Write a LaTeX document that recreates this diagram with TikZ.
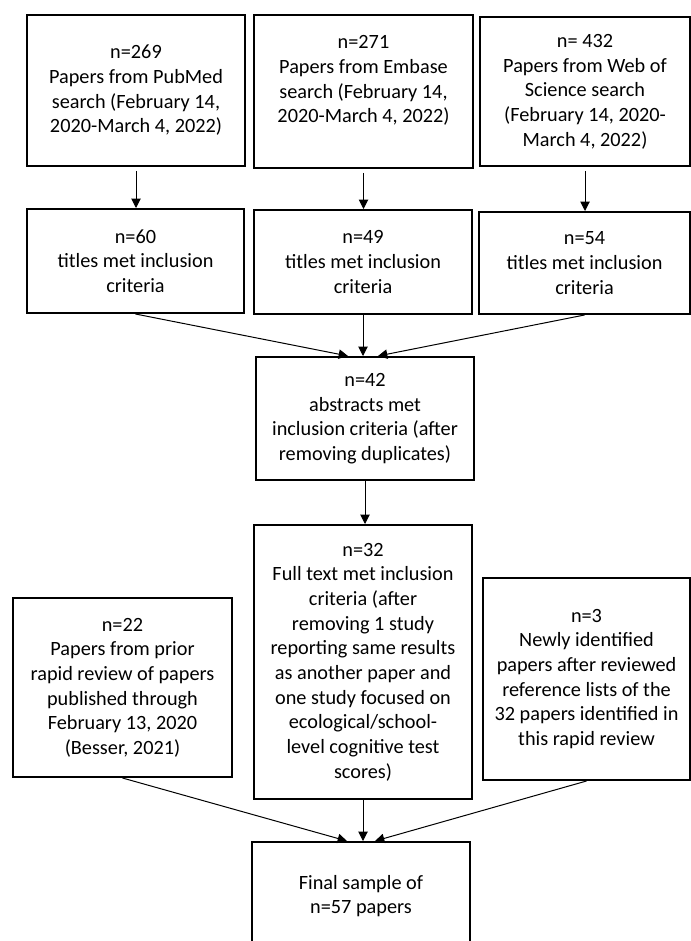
\documentclass[tikz,border=0pt]{standalone}
\usepackage{fontspec}
\setmainfont{Carlito}
\usepackage{tikz}
\usetikzlibrary{calc,arrows.meta}
\definecolor{boxline}{HTML}{000000}

\begin{document}
\begin{tikzpicture}[x=0.75pt,y=-0.75pt,
  flowbox/.style={draw=boxline, line width=1.5pt, align=center, inner sep=2pt,
    font=\fontsize{15.2pt}{18.5pt}\selectfont},
  flowarrow/.style={draw=boxline, line width=0.75pt, -{Triangle[length=7pt,width=7pt]}}]
\useasboundingbox (0,0) rectangle (691,941);
% search results
\node[flowbox, minimum width=163.5pt, minimum height=113.25pt] (pub) at (136,90.5)
  {n=269\\Papers from PubMed\\search (February 14,\\2020-March 4, 2022)};
\node[flowbox, minimum width=164.25pt, minimum height=114.75pt] (emb) at (363.5,91.5)
  {n=271\\Papers from Embase\\search (February 14,\\2020-March 4, 2022)\\ \mbox{}};
\node[flowbox, minimum width=157.5pt, minimum height=111.75pt] (wos) at (585,91.5)
  {n= 432\\Papers from Web of\\Science search\\(February 14, 2020-\\March 4, 2022)};
% titles
\node[flowbox, minimum width=162.75pt, minimum height=78pt] (pubt) at (135.5,261)
  {n=60\\titles met inclusion\\criteria};
\node[flowbox, minimum width=163.5pt, minimum height=78pt] (embt) at (363,262)
  {n=49\\titles met inclusion\\criteria};
\node[flowbox, minimum width=158.25pt, minimum height=76.5pt] (wost) at (584.5,263)
  {n=54\\titles met inclusion\\criteria};
% abstracts and full text
\node[flowbox, minimum width=163.5pt, minimum height=92.25pt] (abs) at (365,418.5)
  {n=42\\abstracts met\\inclusion criteria (after\\removing duplicates)};
\node[flowbox, minimum width=163.5pt, minimum height=205.5pt] (full) at (363,662)
  {n=32\\Full text met inclusion\\criteria (after\\removing 1 study\\reporting same results\\as another paper and\\one study focused on\\ecological/school-\\level cognitive test\\scores)};
\node[flowbox, minimum width=164.25pt, minimum height=134.25pt] (prior) at (122.5,687.5)
  {n=22\\Papers from prior\\rapid review of papers\\published through\\February 13, 2020\\(Besser, 2021)};
\node[flowbox, minimum width=155.25pt, minimum height=151.5pt] (newid) at (586.5,679)
  {n=3\\Newly identified\\papers after reviewed\\reference lists of the\\32 papers identified in\\this rapid review};
\node[flowbox, minimum width=163.5pt, minimum height=81pt] (final) at (361,896)
  {Final sample of\\n=57 papers};
% arrows
\draw[flowarrow, shorten <=3pt] (pub.south) -- (pub.south |- pubt.north);
\draw[flowarrow, shorten <=3pt] (emb.south) -- (emb.south |- embt.north);
\draw[flowarrow, shorten <=3pt] (wos.south) -- (wos.south |- wost.north);
\draw[flowarrow] (pubt.south) -- ($(abs.north)+(-17,0)$);
\draw[flowarrow] (embt.south) -- (embt.south |- abs.north);
\draw[flowarrow] (wost.south) -- ($(abs.north)+(13,0)$);
\draw[flowarrow] (abs.south) -- (abs.south |- full.north);
\draw[flowarrow] (prior.south) -- ($(final.north)+(-14,0)$);
\draw[flowarrow] (full.south) -- (full.south |- final.north);
\draw[flowarrow] (newid.south) -- ($(final.north)+(14,0)$);
\end{tikzpicture}
\end{document}
